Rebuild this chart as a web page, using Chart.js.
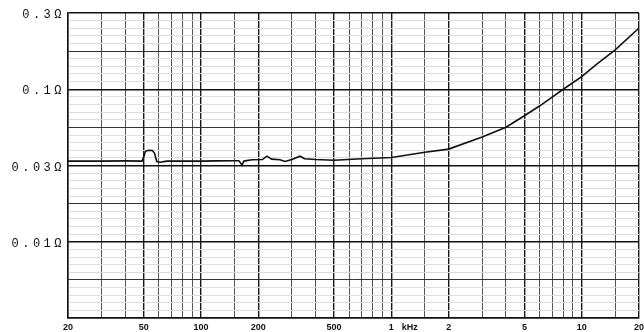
<!DOCTYPE html>
<html>
<head>
<meta charset="utf-8">
<script src="https://cdn.jsdelivr.net/npm/chart.js@4.4.1/dist/chart.umd.min.js"></script>
<style>
  html, body { margin: 0; padding: 0; background: #fff; }
</style>
</head>
<body>
<canvas id="impChart" width="644" height="332"></canvas>
<script>
// ---------- DATA ----------
// frequency (Hz) and impedance (ohm)
const freqs = [
  20, 30, 40, 49, 50, 51, 53, 55.5, 57, 58.5, 61, 66, 80, 100, 120, 150,
  158, 161, 164, 168, 185, 210, 222, 235, 260, 276, 300, 331, 350, 400,
  500, 700, 1000, 1500, 2000, 3000, 4000, 5000, 6000, 7000, 8000, 10000,
  12000, 15000, 20000,
];
const impedance = [
  0.0338, 0.0338, 0.0339, 0.0338, 0.036, 0.0392, 0.0398, 0.0397, 0.038, 0.0336,
  0.0332, 0.0338, 0.0338, 0.0338, 0.0339, 0.034,
  0.034, 0.033, 0.0318, 0.0338, 0.0345, 0.0346, 0.0364, 0.0348, 0.0345,
  0.0336, 0.0346, 0.0364, 0.035, 0.0346,
  0.0342, 0.035, 0.0357, 0.0386, 0.0405, 0.0486, 0.0563, 0.067, 0.0776,
  0.0889, 0.1, 0.121, 0.146, 0.181, 0.252,
];

// axis labels
const xTickFreqs = [20, 50, 100, 200, 500, 1000, 1250, 2000, 5000, 10000, 20000];
const xTickText = ["20", "50", "100", "200", "500", "1", "kHz", "2", "5", "10", "20"];
const yTickValues = [0.3162, 0.1, 0.03162, 0.01];
const yTickText = ["0.3\u03a9", "0.1\u03a9", "0.03\u03a9", "0.01\u03a9"];

// ---------- GRID HELPERS ----------
function xGridTicks() {
  const mults = [1, 1.5, 2, 3, 4, 5, 6, 7, 8, 9];
  const out = [];
  [10, 100, 1000, 10000].forEach((dec) => {
    mults.forEach((m) => {
      const v = dec * m;
      if (v >= 20 && v <= 20000) out.push({ value: v, kind: "grid" });
    });
  });
  xTickFreqs.forEach((v, i) => {
    const t = out.find((o) => Math.abs(o.value - v) < 1e-6);
    if (t) {
      t.kind = "major";
      t.text = xTickText[i];
    } else {
      out.push({ value: v, kind: "label", text: xTickText[i] });
    }
  });
  return out.sort((a, b) => a.value - b.value);
}

function yGridTicks() {
  const out = [];
  for (let k = 0; k <= 40; k++) {
    const v = Math.pow(10, -2.5 + k / 20);
    let kind = "minor";
    if (k % 10 === 0) kind = "major";
    else if (k % 5 === 0) kind = "quarter";
    out.push({ value: v, kind: kind });
  }
  return out;
}

// y labels: the scan has them letter-spaced, chart.js can't do that itself,
// so they are drawn here at the y scale's own pixel positions
const yLabelPlugin = {
  id: "yLabels",
  afterDraw(chart) {
    const c = chart.ctx;
    const y = chart.scales.y;
    c.save();
    c.font = "12px 'Liberation Mono', 'DejaVu Sans Mono', monospace";
    c.letterSpacing = "3.5px";
    c.fillStyle = "#111";
    c.textAlign = "right";
    c.textBaseline = "middle";
    yTickValues.forEach((v, i) => {
      c.fillText(yTickText[i], y.right - 3, y.getPixelForValue(v) + 2);
    });
    c.restore();
  },
};

// ---------- CHART ----------
const ctx = document.getElementById("impChart").getContext("2d");

new Chart(ctx, {
  type: "line",
  data: {
    datasets: [
      {
        data: freqs.map((f, i) => ({ x: f, y: impedance[i] })),
        borderColor: "#111",
        borderWidth: 1.6,
        pointRadius: 0,
        tension: 0,
        fill: false,
      },
    ],
  },
  options: {
    responsive: false,
    animation: false,
    layout: { padding: { left: 0, top: 13, right: 5, bottom: 0 } },
    plugins: { legend: { display: false }, tooltip: { enabled: false } },
    scales: {
      x: {
        type: "logarithmic",
        min: 20,
        max: 20000,
        bounds: "data",
        afterBuildTicks: (scale) => { scale.ticks = xGridTicks(); },
        afterFit: (scale) => {
          scale.height = 14;
          scale.paddingLeft = 0;
          scale.paddingRight = 0;
        },
        border: { display: true, color: "#111", width: 1.5 },
        grid: {
          drawTicks: false,
          color: (c) => {
            const k = c.tick && c.tick.kind;
            if (k === "label") return "rgba(0,0,0,0)";
            return k === "major" ? "#1a1a1a" : "#555";
          },
          lineWidth: (c) => (c.tick && c.tick.kind === "major" ? 1.4 : 1),
        },
        ticks: {
          autoSkip: false,
          maxRotation: 0,
          padding: 4,
          color: "#111",
          font: { family: "'Liberation Sans Narrow', 'Liberation Sans', sans-serif", size: 9, weight: "bold" },
          callback: function (value, index) {
            const t = this.ticks[index];
            return t && t.text ? t.text : "";
          },
        },
      },
      y: {
        type: "logarithmic",
        min: Math.pow(10, -2.5),
        max: Math.pow(10, -0.5),
        bounds: "data",
        afterBuildTicks: (scale) => { scale.ticks = yGridTicks(); },
        afterFit: (scale) => {
          scale.width = 68;
          scale.paddingTop = 0;
          scale.paddingBottom = 0;
        },
        border: { display: true, color: "#111", width: 1.5 },
        grid: {
          drawTicks: false,
          color: (c) => {
            const k = c.tick && c.tick.kind;
            if (k === "major") return "#111";
            if (k === "quarter") return "#333";
            return "#dcdcdc";
          },
          lineWidth: (c) => (c.tick && c.tick.kind === "major" ? 1.5 : 1),
        },
        ticks: { display: false },
      },
    },
  },
  plugins: [yLabelPlugin],
});
</script>
</body>
</html>
